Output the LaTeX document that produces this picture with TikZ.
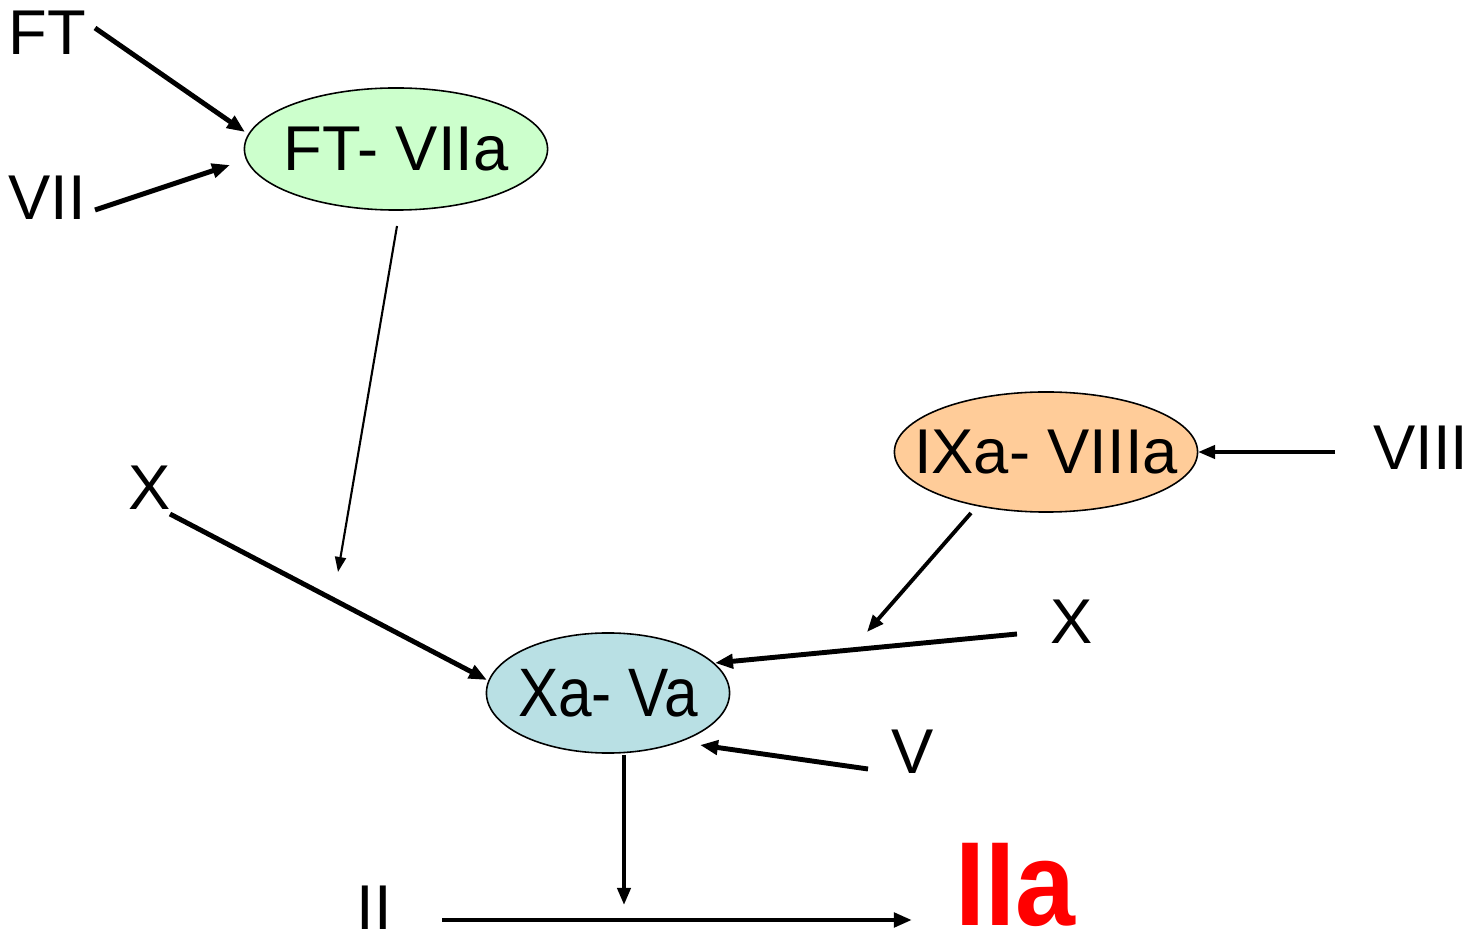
\documentclass[tikz,border=0pt]{standalone}
\usepackage{fontspec}
\usepackage{graphicx}
\setmainfont{Liberation Sans}
\usetikzlibrary{shapes.geometric,arrows.meta}
\definecolor{cgreen}{HTML}{CCFFCC}
\definecolor{corange}{HTML}{FFCC99}
\definecolor{cblue}{HTML}{B9E0E4}
\definecolor{cred}{HTML}{FF0000}
\begin{document}
\begin{tikzpicture}[x=0.01cm,y=-0.01cm,
  lbl/.style={inner sep=0pt, font=\fontsize{18}{18}\selectfont},
  ell/.style={ellipse, draw=black, line width=0.45pt, inner sep=0pt},
  arr/.style={line width=1.4pt, -{Triangle[length=0.18cm,width=0.14cm]}},
  medarr/.style={line width=1.1pt, -{Triangle[length=0.17cm,width=0.13cm]}},
  thinarr/.style={line width=0.6pt, -{Triangle[length=0.15cm,width=0.11cm]}}]
\useasboundingbox (0,0) rectangle (1472,937);
% ellipses
\node[ell, fill=cgreen, minimum width=3.03cm, minimum height=1.22cm] (ftv) at (396,149) {};
\node[lbl] (ftvt) at (ftv.center) {FT- VIIa};
\node[ell, fill=corange, minimum width=3.03cm, minimum height=1.20cm] (ixv) at (1046,452) {};
\node[lbl] (ixvt) at (ixv.center) {IXa- VIIIa};
\node[ell, fill=cblue, minimum width=2.43cm, minimum height=1.20cm] (xav) at (608,693) {};
\node[inner sep=0pt] (xavt) at (xav.center) {\scalebox{0.88}[1]{\fontsize{19.5}{19.5}\selectfont Xa- Va}};
% labels
\node[lbl] (ft) at (47,33) {FT};
\node[lbl] (vii) at (47,198) {VII};
\node[lbl] (xl) at (150,488) {X};
\node[lbl] (viii) at (1421,448) {VIII};
\node[lbl] (xr) at (1072,622) {X};
\node[lbl] (v) at (913,752) {V};
\node[lbl] (ii) at (374,908) {II};
\node[inner sep=0pt, text=cred] (iia) at (1015,885) {\scalebox{0.9}[1]{\fontsize{34}{34}\selectfont\bfseries IIa}};
% coordinates
\coordinate (ftS) at (95,28);   \coordinate (ftE) at (245,132);
\coordinate (viiS) at (95,210); \coordinate (viiE) at (230,165);
\coordinate (thS) at (397,226); \coordinate (thE) at (338,572);
\coordinate (xlS) at (170,514); \coordinate (xlE) at (487,680);
\coordinate (viiiS) at (1335,452); \coordinate (viiiE) at (1198,452);
\coordinate (ixS) at (971,513); \coordinate (ixE) at (867,632);
\coordinate (xrS) at (1017,634); \coordinate (xrE) at (715,663);
\coordinate (vS) at (868,769); \coordinate (vE) at (700,745);
\coordinate (dS) at (624,755); \coordinate (dE) at (624,905);
\coordinate (iiS) at (442,920); \coordinate (iiE) at (912,920);
% arrows
\draw[arr] (ftS) -- (ftE);
\draw[arr] (viiS) -- (viiE);
\draw[thinarr] (thS) -- (thE);
\draw[arr] (xlS) -- (xlE);
\draw[medarr] (viiiS) -- (viiiE);
\draw[medarr] (ixS) -- (ixE);
\draw[arr] (xrS) -- (xrE);
\draw[arr] (vS) -- (vE);
\draw[medarr] (dS) -- (dE);
\draw[arr] (iiS) -- (iiE);
\end{tikzpicture}
\end{document}
